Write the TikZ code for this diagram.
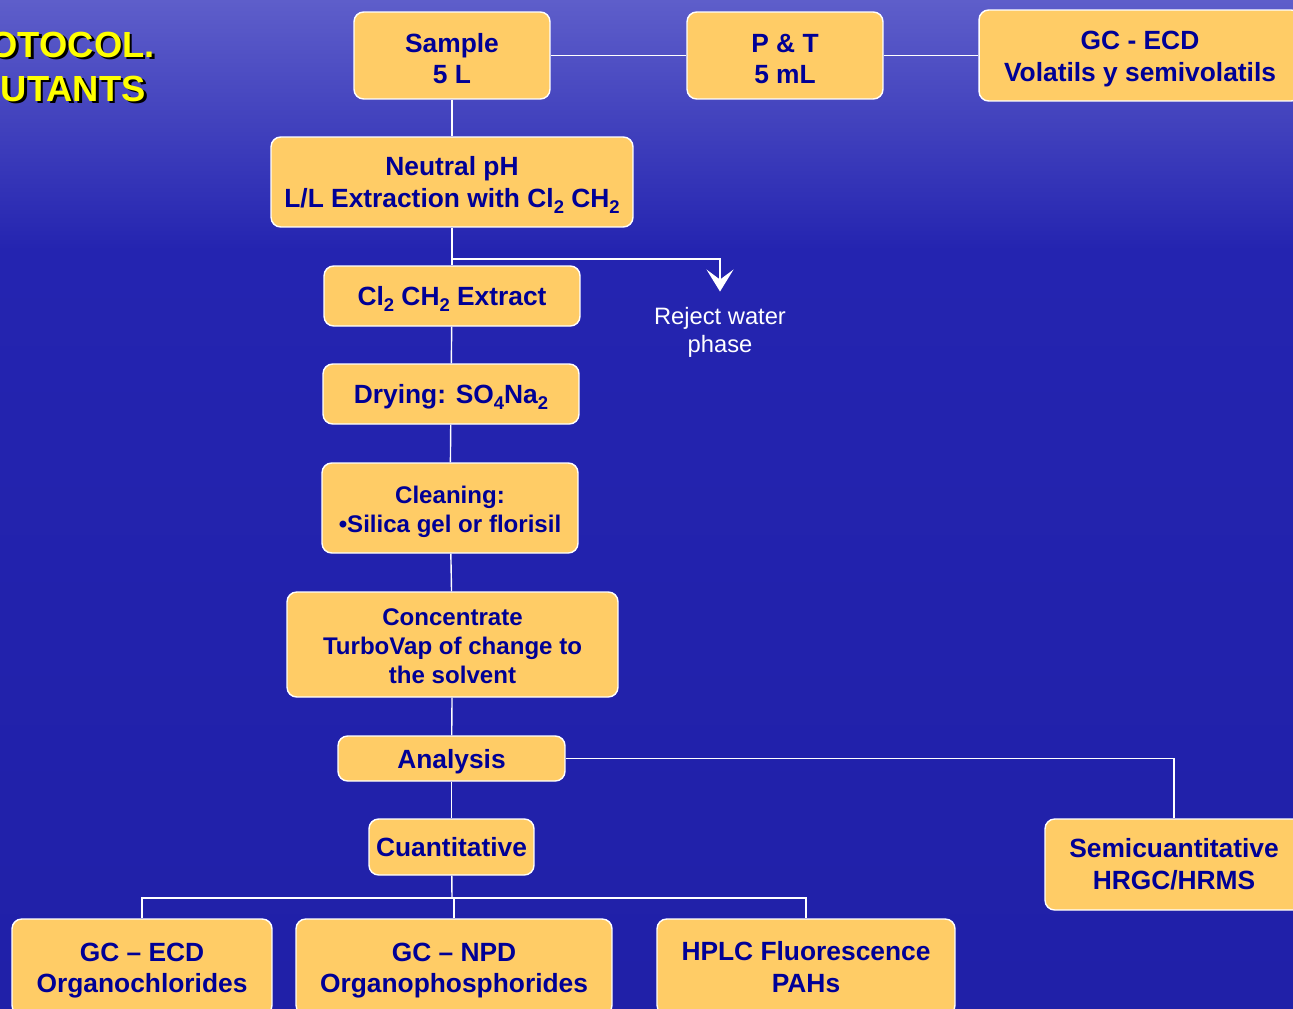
\documentclass[tikz,border=0pt]{standalone}
\usepackage{fontspec}
\setmainfont{Liberation Sans}
\usepackage{tikz}
\usetikzlibrary{arrows.meta,positioning}
\definecolor{bgtop}{RGB}{94,94,202}
\definecolor{bgmid}{RGB}{36,36,176}
\definecolor{bgbot}{RGB}{32,32,168}
\definecolor{boxfill}{RGB}{255,204,102}
\definecolor{boxtext}{RGB}{0,0,150}
\definecolor{titleyel}{RGB}{255,255,0}
\newcommand{\subidx}[1]{\raisebox{-0.45ex}{\fontsize{10.5}{10.5}\selectfont #1}}
\newcommand{\shtxt}[1]{\makebox[0pt][l]{\hspace{1.5pt}\raisebox{-1.5pt}{\color{black}#1}}#1}
\newcommand{\tpad}[1][14.5pt]{\rule{0pt}{#1}}
\tikzset{
  blk/.style={draw=white, line width=0.8pt, fill=boxfill, rounded corners=5.5pt, text=boxtext, font=\fontsize{15}{18}\selectfont\bfseries, align=center, inner sep=0pt},
  sml/.style={font=\fontsize{13.7}{16.5}\selectfont\bfseries},
  lnk/.style={draw=white, line width=0.8pt},
  rjt/.style={text=white, font=\fontsize{13.5}{16}\selectfont, align=center, inner sep=0pt},
  ttl/.style={text=titleyel, font=\fontsize{20.7}{25}\selectfont\bfseries, inner sep=0pt, anchor=base east}
}
\begin{document}
\begin{tikzpicture}[x=0.02cm, y=-0.02cm]
\useasboundingbox (0,0) rectangle (1293,1008);
\clip (0,0) rectangle (1293,1008);
% background
\shade[top color=bgtop, bottom color=bgmid] (0,0) rectangle (1293,250);
\shade[top color=bgmid, bottom color=bgbot] (0,250) rectangle (1293,1008);
% title
\node[ttl] (title1) at (155,57) {\shtxt{OTOCOL.}};
\node[ttl] (title2) at (146,101) {\shtxt{UTANTS}};
% boxes
\node[blk, minimum width=3.92cm, minimum height=1.74cm] (sample) at (452,55.5) {\tpad Sample\\5 L};
\node[blk, minimum width=3.92cm, minimum height=1.74cm] (pt) at (785,55.5) {\tpad P \& T\\5 mL};
\node[blk, minimum width=6.44cm, minimum height=1.82cm] (gcv) at (1140,55.5) {\tpad GC - ECD\\Volatils y semivolatils};
\node[blk, minimum width=7.24cm, minimum height=1.8cm] (neutral) at (452,182) {\tpad Neutral pH\\L/L Extraction with Cl\subidx{2} CH\subidx{2}};
\node[blk, minimum width=5.12cm, minimum height=1.2cm] (extract) at (452,296) {\tpad Cl\subidx{2} CH\subidx{2} Extract};
\node[blk, minimum width=5.12cm, minimum height=1.2cm] (drying) at (451,394) {\tpad Drying: SO\subidx{4}Na\subidx{2}};
\node[blk, sml, minimum width=5.12cm, minimum height=1.8cm] (clean) at (450,508) {\tpad Cleaning:\\•Silica gel or florisil};
\node[blk, sml, minimum width=6.62cm, minimum height=2.1cm] (conc) at (452.5,644.5) {\tpad[11pt]Concentrate\\TurboVap of change to\\the solvent};
\node[blk, minimum width=4.54cm, minimum height=0.9cm] (analysis) at (451.5,758.5) {\tpad Analysis};
\node[blk, minimum width=3.3cm, minimum height=1.12cm] (cuant) at (451.5,847) {Cuantitative};
\node[blk, minimum width=5.16cm, minimum height=1.82cm] (semi) at (1174,864.5) {Semicuantitative\\HRGC/HRMS};
\node[blk, minimum width=5.2cm, minimum height=1.92cm] (ecd) at (142,967) {\tpad GC – ECD\\Organochlorides};
\node[blk, minimum width=6.32cm, minimum height=1.92cm] (npd) at (454,967) {\tpad GC – NPD\\Organophosphorides};
\node[blk, minimum width=5.96cm, minimum height=1.92cm] (hplc) at (806,967) {HPLC Fluorescence\\PAHs};
\node[rjt] (reject) at (720,332) {Reject water\\phase};
% connectors
\coordinate (split) at (452,259);
\coordinate (fork) at (452,898);
\draw[lnk] (sample) -- (pt);
\draw[lnk] (pt) -- (gcv);
\draw[lnk] (sample) -- (neutral);
\draw[lnk] (neutral) -- (extract);
\draw[lnk] (extract) -- (drying);
\draw[lnk] (drying) -- (clean);
\draw[lnk] (clean) -- (conc);
\draw[lnk] (conc) -- (analysis);
\draw[lnk] (analysis) -- (cuant);
\draw[lnk, -{Stealth[length=0.44cm, width=0.54cm, inset=0.2cm]}, shorten >=0.3cm] (split) -| (reject.north);
\draw[lnk] (analysis) -| (semi);
\draw[lnk] (cuant) -- (fork);
\draw[lnk] (ecd) |- (fork) -| (hplc);
\draw[lnk] (npd) -- (npd |- fork);
\end{tikzpicture}
\end{document}
